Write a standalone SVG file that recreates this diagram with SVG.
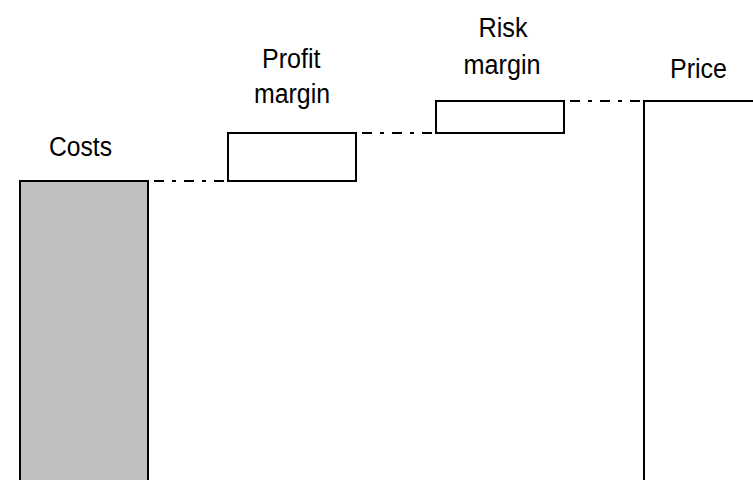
<svg xmlns="http://www.w3.org/2000/svg" width="753" height="480" viewBox="0 0 753 480">
<style>
.box{fill:#ffffff;stroke:#000000;stroke-width:2}
.cost{fill:#c0c0c0;stroke:#000000;stroke-width:2}
.dash{stroke:#000000;stroke-width:2;fill:none;stroke-dasharray:10 8 4 8;stroke-dashoffset:24}
.lbl{font-family:"Liberation Sans",Arial,sans-serif;font-size:27px;fill:#000000}
</style>
<rect width="753" height="480" fill="#ffffff"/>
<g id="connectors">
<line class="dash" x1="148" y1="181" x2="228" y2="181"/>
<line class="dash" x1="356" y1="133" x2="436" y2="133"/>
<line class="dash" x1="564" y1="101" x2="644" y2="101"/>
</g>
<g id="costs">
<rect class="cost" x="20" y="181" width="128" height="310"/>
<text class="lbl" x="49" y="156" textLength="63" lengthAdjust="spacingAndGlyphs">Costs</text>
</g>
<g id="profit-margin">
<rect class="box" x="228" y="133" width="128" height="48"/>
<text class="lbl" x="262" y="68" textLength="58.5" lengthAdjust="spacingAndGlyphs">Profit</text>
<text class="lbl" x="254" y="102.5" textLength="76" lengthAdjust="spacingAndGlyphs">margin</text>
</g>
<g id="risk-margin">
<rect class="box" x="436" y="101" width="128" height="32"/>
<text class="lbl" x="478.5" y="36.5" textLength="49" lengthAdjust="spacingAndGlyphs">Risk</text>
<text class="lbl" x="463.5" y="74" textLength="77" lengthAdjust="spacingAndGlyphs">margin</text>
</g>
<g id="price">
<rect class="box" x="644" y="101" width="130" height="400"/>
<text class="lbl" x="670" y="78" textLength="57" lengthAdjust="spacingAndGlyphs">Price</text>
</g>
</svg>
